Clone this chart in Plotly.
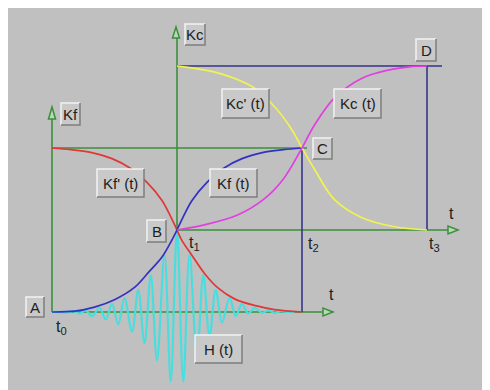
import plotly.graph_objects as go

# ---- data (t in units of t0..t3, K in level units) ----
kf_t = [0, 0.18, 0.34, 0.50, 0.66, 0.77, 0.88, 0.96, 1.0, 1.04, 1.12, 1.24, 1.37, 1.52, 1.70, 1.85, 2.0]
kf_k = [0, 0.01, 0.06, 0.15, 0.30, 0.48, 0.67, 0.88, 1.0, 1.13, 1.36, 1.58, 1.75, 1.87, 1.95, 1.98, 2.0]

kfp_t = [0, 0.15, 0.30, 0.48, 0.63, 0.76, 0.88, 0.96, 1.0, 1.04, 1.12, 1.22, 1.33, 1.46, 1.62, 1.78, 2.0]
kfp_k = [2.0, 1.98, 1.95, 1.87, 1.75, 1.58, 1.36, 1.13, 1.0, 0.87, 0.69, 0.47, 0.29, 0.16, 0.08, 0.03, 0.0]

kc_t = [1.0, 1.21, 1.48, 1.69, 1.85, 2.0, 2.10, 2.26, 2.48, 2.69, 2.86, 3.0]
kc_k = [1.0, 1.06, 1.18, 1.37, 1.62, 2.0, 2.28, 2.61, 2.85, 2.95, 2.99, 3.0]

kcp_t = [1.0, 1.10, 1.34, 1.61, 1.80, 1.92, 2.0, 2.10, 2.26, 2.48, 2.74, 3.0]
kcp_k = [3.0, 2.98, 2.91, 2.74, 2.47, 2.22, 2.0, 1.74, 1.37, 1.15, 1.04, 1.0]

h_t = [0, 0.06, 0.12, 0.17, 0.22, 0.27, 0.32, 0.38, 0.43, 0.48, 0.53, 0.58, 0.64, 0.69,
       0.74, 0.79, 0.84, 0.90, 0.95, 1.0, 1.05, 1.10, 1.16, 1.21, 1.26, 1.31, 1.36, 1.42,
       1.47, 1.52, 1.57, 1.62, 1.68, 1.73, 1.78, 1.83, 1.88, 1.94]
h_v = [0, 0.0, -0.01, 0.01, -0.02, 0.02, -0.05, 0.05, -0.09, 0.10, -0.15, 0.17, -0.24, 0.27,
       -0.38, 0.45, -0.59, 0.70, -0.85, 1.0, -0.85, 0.70, -0.56, 0.45, -0.29, 0.27, -0.13, 0.17,
       -0.05, 0.10, -0.02, 0.05, -0.01, 0.02, -0.01, 0.01, 0.0, 0.0]

t_marks = [0, 1, 2, 3]          # t0..t3
levels = [0, 1, 2, 3]           # A, B/t-axis, C level, D level

# ---- pixel helpers (reference-picture pixels) for layout only ----
def T(px):
    return (px - 52) / 125.0

def K(py):
    return (312 - py) / 82.0

GREEN = "#3b8f3b"
NAVY = "#35358a"
BG = "#c0c0c0"

fig = go.Figure()

def seg(x, y, color, width=1.6):
    fig.add_trace(go.Scatter(x=x, y=y, mode="lines", line=dict(color=color, width=width),
                             hoverinfo="skip", showlegend=False))

# guide lines
seg([t_marks[0], t_marks[0]], [levels[0], K(119)], GREEN)
seg([t_marks[1], t_marks[1]], [levels[1], K(38)], GREEN)
seg([t_marks[0], T(323)], [levels[0], levels[0]], GREEN)
seg([t_marks[1], T(448)], [levels[1], levels[1]], GREEN)
seg([t_marks[0], T(307)], [levels[2], levels[2]], GREEN)
seg([t_marks[1], T(442)], [levels[3], levels[3]], NAVY)
seg([t_marks[3], t_marks[3]], [levels[3], levels[1]], NAVY)
seg([t_marks[2], t_marks[2]], [levels[2], levels[0]], NAVY)

# curves
def curve(x, y, color, width=1.7):
    fig.add_trace(go.Scatter(x=x, y=y, mode="lines",
                             line=dict(color=color, width=width, shape="spline", smoothing=1.0),
                             hoverinfo="skip", showlegend=False))

curve(h_t, h_v, "#48dede", 2.2)
curve(kfp_t, kfp_k, "#e03838")
curve(kf_t, kf_k, "#3232c0")
curve(kcp_t, kcp_k, "#f2f250")
curve(kc_t, kc_k, "#e040e0")

shapes = []

# arrowheads (hollow triangles)
def tri(p):
    path = "M " + " L ".join(f"{T(a)},{K(b)}" for a, b in p) + " Z"
    shapes.append(dict(type="path", path=path, xref="x", yref="y",
                       line=dict(color=GREEN, width=1.5), fillcolor="#b8d8b8"))

tri([(52, 107), (48.5, 119), (55.5, 119)])
tri([(176, 27), (172.5, 38), (179.5, 38)])
tri([(333, 312), (323, 308), (323, 316)])
tri([(458, 230), (448, 226), (448, 234)])

# label boxes
boxes = [
    ("Kf", 61, 103, 80, 125),
    ("Kc", 185, 24, 205, 45),
    ("Kf' (t)", 97, 169, 144, 197),
    ("Kf (t)", 210, 169, 257, 197),
    ("Kc' (t)", 222, 89, 269, 118),
    ("Kc (t)", 334, 89, 381, 118),
    ("C", 313, 138, 332, 159),
    ("D", 416, 39, 436, 61),
    ("B", 147, 220, 166, 242),
    ("A", 26, 297, 44, 317),
    ("H (t)", 195, 335, 242, 363),
]
annotations = []
for txt, x0, y0, x1, y1 in boxes:
    shapes.append(dict(type="rect", xref="x", yref="y", x0=T(x0), x1=T(x1), y0=K(y0), y1=K(y1),
                       fillcolor="#c9c9c9", line=dict(width=0)))
    shapes.append(dict(type="path", xref="x", yref="y",
                       path=f"M {T(x0)},{K(y1)} L {T(x0)},{K(y0)} L {T(x1)},{K(y0)}",
                       line=dict(color="#f2f2f2", width=1.5)))
    shapes.append(dict(type="path", xref="x", yref="y",
                       path=f"M {T(x1)},{K(y0)} L {T(x1)},{K(y1)} L {T(x0)},{K(y1)}",
                       line=dict(color="#7e7e7e", width=1.5)))
    annotations.append(dict(x=T((x0 + x1) / 2), y=K((y0 + y1) / 2), xref="x", yref="y",
                            text=txt, showarrow=False,
                            font=dict(family="Liberation Sans, Arial", size=15, color="#202020")))

plain = [
    ("t<sub>0</sub>", 61, 327),
    ("t<sub>1</sub>", 194, 243),
    ("t<sub>2</sub>", 313, 244),
    ("t<sub>3</sub>", 434, 244),
    ("t", 451, 213),
    ("t", 331, 294),
]
for txt, cx, cy in plain:
    annotations.append(dict(x=T(cx), y=K(cy), xref="x", yref="y", text=txt, showarrow=False,
                            font=dict(family="Liberation Sans, Arial", size=16, color="#202020")))

# the page body adds an 8 px white border on the left and top; the figure fills the rest
fig.update_layout(
    width=482, height=382,
    margin=dict(l=0, r=0, t=0, b=0, pad=0, autoexpand=False),
    paper_bgcolor=BG, plot_bgcolor=BG,
    xaxis=dict(range=[T(8), T(490)], visible=False, fixedrange=True),
    yaxis=dict(range=[K(390), K(8)], visible=False, fixedrange=True),
    shapes=shapes, annotations=annotations, showlegend=False,
)

fig.write_html("out.html")
